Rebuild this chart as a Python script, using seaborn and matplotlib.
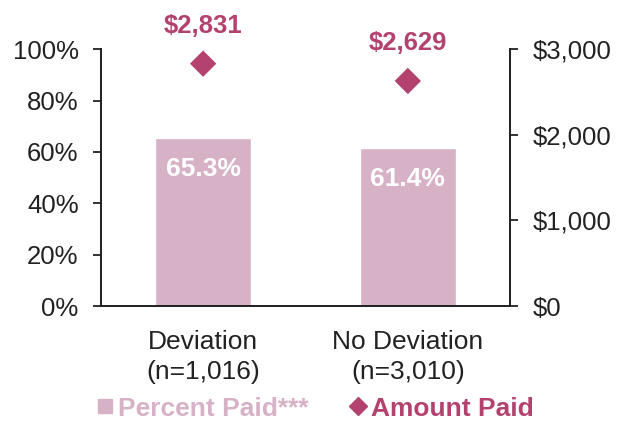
import numpy as np
import pandas as pd
import matplotlib
matplotlib.use('Agg')
import matplotlib.pyplot as plt
import seaborn as sns
from matplotlib.lines import Line2D
from matplotlib.ticker import FuncFormatter

# data
groups = ['Deviation\n(n=1,016)', 'No Deviation\n(n=3,010)']
pct_paid = [65.3, 61.4]
amt_paid = [2831, 2629]

bar_col = '#D7B1C6'
dia_col = '#B3426F'
txt_col = '#222222'

sns.set_style('white')
plt.rcParams['font.family'] = ['Liberation Sans', 'DejaVu Sans']

df = pd.DataFrame({'group': groups, 'pct': pct_paid, 'amt': amt_paid})

fig = plt.figure(figsize=(6.26, 4.24), dpi=100)
ax = fig.add_axes([0.161, 0.278, 0.654, 0.606])

sns.barplot(data=df, x='group', y='pct', color=bar_col, width=0.47,
            saturation=1, ax=ax)
ax.set_xlim(-0.5, 1.5)
ax.set_ylim(0, 100)
ax.set_yticks(np.arange(0, 101, 20))
ax.yaxis.set_major_formatter(FuncFormatter(lambda v, p: f'{v:.0f}%'))
ax.set_xlabel('')
ax.set_ylabel('')

# white labels inside bars
for i, v in enumerate(pct_paid):
    ax.annotate(f'{v:.1f}%', (i, v), xytext=(0, -22), textcoords='offset points',
                ha='center', va='center', color='white', fontsize=19,
                fontweight='bold')

ax2 = ax.twinx()
sns.scatterplot(data=df, x='group', y='amt', marker='D', s=180, color=dia_col,
                edgecolor='none', ax=ax2, zorder=5)
ax2.set_ylim(0, 3000)
ax2.set_yticks([0, 1000, 2000, 3000])
ax2.yaxis.set_major_formatter(FuncFormatter(lambda v, p: f'${v:,.0f}'))
ax2.set_ylabel('')
ax2.set_xlim(-0.5, 1.5)

for i, v in enumerate(amt_paid):
    ax2.annotate(f'${v:,}', (i, v), xytext=(0, 27), textcoords='offset points',
                 ha='center', va='center', color=dia_col, fontsize=18.5,
                 fontweight='bold')

for a in (ax, ax2):
    for s in ['left', 'right', 'bottom']:
        a.spines[s].set_visible(True)
        a.spines[s].set_color(txt_col)
        a.spines[s].set_linewidth(1.3)
    a.spines['top'].set_visible(False)
    a.tick_params(axis='y', direction='out', length=6, width=1.3,
                  colors=txt_col, labelsize=18.5, pad=10)

ax.tick_params(axis='y', left=True, right=False)
ax2.tick_params(axis='y', right=True, left=False)
ax.tick_params(axis='x', length=0, labelsize=19, labelcolor=txt_col, pad=17)
for t in ax.get_xticklabels():
    t.set_linespacing(1.35)

handles = [
    Line2D([], [], marker='s', linestyle='none', color=bar_col, markersize=10),
    Line2D([], [], marker='D', linestyle='none', color=dia_col, markersize=9),
]
leg = fig.legend(handles, ['Percent Paid***', 'Amount Paid'], loc='center',
                 bbox_to_anchor=(0.505, 0.036), ncol=2, frameon=False,
                 handlelength=0.5, handletextpad=0.25, columnspacing=1.6,
                 borderpad=0, prop={'size': 19, 'weight': 'bold'},
                 labelcolor=[bar_col, dia_col])

fig.savefig('out.png', dpi=100)
